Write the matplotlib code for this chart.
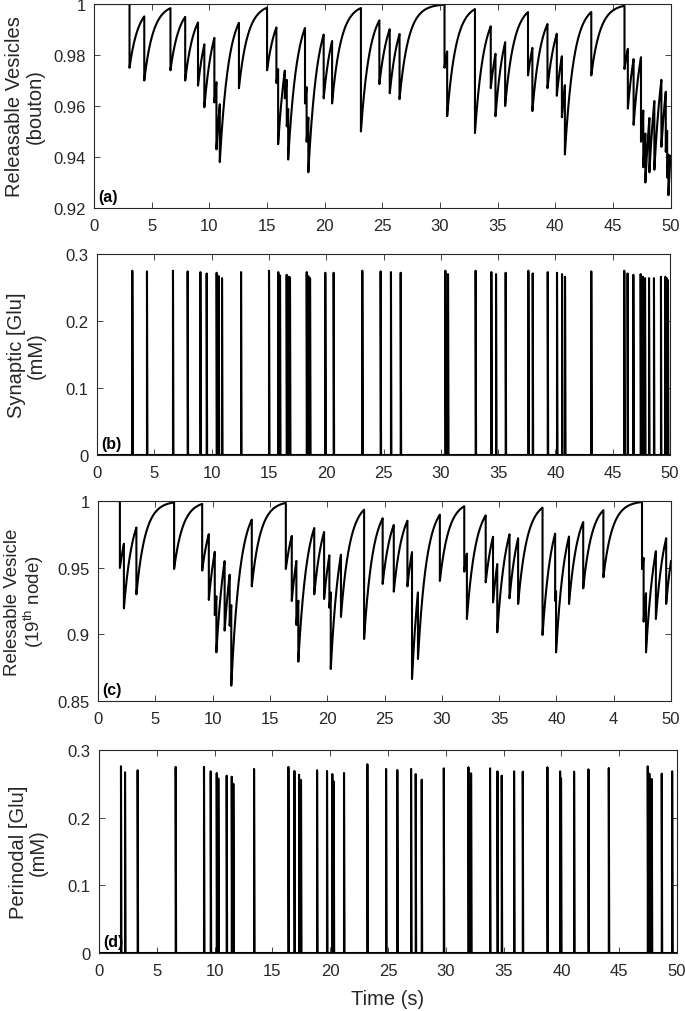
import numpy as np
import matplotlib
matplotlib.use("Agg")
import matplotlib.pyplot as plt

plt.rcParams["font.family"] = ["Liberation Sans", "DejaVu Sans"]
plt.rcParams["mathtext.fontset"] = "custom"
plt.rcParams["mathtext.rm"] = "Liberation Sans"
plt.rcParams["mathtext.it"] = "Liberation Sans:italic"

FIG_W, FIG_H = 685, 1012
TAU_RECOVERY = 0.78
T_END = 50.0
PULSE_WIDTH = 0.04
AX_COLOR = "#262626"

# bouton: spike times (s), synaptic [Glu] peaks (mM), vesicle fraction just after each spike
bouton_spike_t = [3.08, 4.36, 6.63, 7.91, 9.02, 9.57, 10.44, 10.62, 10.91, 12.57,
                  15.01, 15.82, 15.97, 16.55, 16.72, 16.84, 18.30, 18.44, 18.59, 19.92,
                  20.65, 23.15, 24.75, 25.65, 26.50, 30.40, 30.63, 33.04, 34.41, 34.82,
                  35.66, 37.64, 38.02, 39.33, 40.14, 40.58, 40.84, 43.13, 46.01, 46.30,
                  46.80, 47.44, 47.64, 47.82, 48.17, 48.60, 49.21, 49.59, 49.71, 49.82]
bouton_glu_peak = [0.275, 0.274, 0.275, 0.274, 0.273, 0.271, 0.272, 0.267, 0.264, 0.273,
                   0.275, 0.273, 0.268, 0.269, 0.266, 0.265, 0.273, 0.267, 0.264, 0.272,
                   0.272, 0.275, 0.274, 0.273, 0.272, 0.275, 0.270, 0.275, 0.273, 0.270,
                   0.272, 0.275, 0.271, 0.273, 0.272, 0.270, 0.266, 0.274, 0.275, 0.271,
                   0.269, 0.270, 0.266, 0.264, 0.264, 0.264, 0.266, 0.266, 0.264, 0.261]
bouton_trough = [0.975, 0.970, 0.974, 0.970, 0.968, 0.9595, 0.9614, 0.943, 0.938, 0.967,
                 0.974, 0.969, 0.945, 0.963, 0.952, 0.939, 0.961, 0.946, 0.934, 0.963,
                 0.961, 0.950, 0.9686, 0.965, 0.9627, 0.975, 0.956, 0.9494, 0.967, 0.956,
                 0.960, 0.972, 0.958, 0.967, 0.964, 0.9556, 0.941, 0.972, 0.9745, 0.959,
                 0.9526, 0.946, 0.936, 0.930, 0.934, 0.935, 0.944, 0.942, 0.932, 0.925]

# 19th node: spike times (s), perinodal [Glu] peaks (mM), vesicle fraction just after each spike
node_spike_t = [1.91, 2.26, 3.35, 6.64, 9.09, 9.67, 10.19, 10.33, 11.05, 11.49,
                11.63, 13.42, 16.39, 16.91, 17.31, 17.48, 18.87, 19.73, 20.19, 20.31,
                21.20, 23.22, 24.84, 25.81, 27.00, 27.40, 27.92, 29.83, 31.96, 32.19,
                33.83, 34.47, 34.84, 35.91, 36.66, 38.79, 39.89, 39.97, 41.10, 42.34,
                44.10, 47.47, 47.61, 47.82, 48.68, 49.58]
node_glu_peak = [0.276, 0.267, 0.270, 0.275, 0.275, 0.2685, 0.266, 0.258, 0.262, 0.2606,
                 0.250, 0.272, 0.275, 0.269, 0.2635, 0.2557, 0.270, 0.269, 0.2645, 0.2537,
                 0.266, 0.279, 0.272, 0.2704, 0.272, 0.2645, 0.2562, 0.2729, 0.2744, 0.2655,
                 0.2729, 0.2685, 0.2621, 0.2685, 0.268, 0.2744, 0.2685, 0.258, 0.268, 0.2714,
                 0.2734, 0.2759, 0.265, 0.2571, 0.265, 0.2685]
node_trough = [0.9498, 0.9195, 0.930, 0.949, 0.9478, 0.9258, 0.9145, 0.8865, 0.9028, 0.9065,
               0.8615, 0.936, 0.949, 0.925, 0.907, 0.8795, 0.930, 0.9265, 0.920, 0.874,
               0.913, 0.8965, 0.9378, 0.932, 0.936, 0.8665, 0.8815, 0.940, 0.947, 0.9115,
               0.939, 0.924, 0.9015, 0.927, 0.9228, 0.8995, 0.925, 0.8865, 0.9228, 0.9345,
               0.9428, 0.949, 0.9095, 0.8865, 0.9115, 0.9228]

x_ticks = [0, 5, 10, 15, 20, 25, 30, 35, 40, 45, 50]
x_tick_labels = ["0", "5", "10", "15", "20", "25", "30", "35", "40", "45", "50"]
x_tick_labels_c = ["0", "5", "10", "15", "20", "25", "30", "35", "40", "4", "50"]


def recovery_trace(spike_t, trough):
    t = [0.0, spike_t[0]]
    v = [1.0, 1.0]
    for k, t0 in enumerate(spike_t):
        t1 = spike_t[k + 1] if k + 1 < len(spike_t) else T_END
        seg = np.linspace(t0, t1, max(int((t1 - t0) * 300), 3))
        t.extend(seg)
        v.extend(1 - (1 - trough[k]) * np.exp(-(seg - t0) / TAU_RECOVERY))
    return t, v


def glu_trace(spike_t, peak):
    t = [0.0]
    g = [0.0]
    for t0, h in zip(spike_t, peak):
        t += [t0, t0, t0 + PULSE_WIDTH]
        g += [0.0, h, 0.0]
    t.append(T_END)
    g.append(0.0)
    return t, g


def make_axes(fig, left, right, top, bottom):
    # pixel box -> figure fraction
    return fig.add_axes([left / FIG_W, 1 - bottom / FIG_H,
                         (right - left) / FIG_W, (bottom - top) / FIG_H])


def style_axes(ax, yticks, ylabels, xlabels, ylabel, label_x, tag, label_size=14.5):
    ax.set_xlim(0, 50)
    ax.set_xticks(x_ticks)
    ax.set_xticklabels(xlabels)
    ax.set_yticks(yticks)
    ax.set_yticklabels(ylabels)
    ax.tick_params(direction="in", top=True, right=True, length=4, width=0.6,
                   labelsize=12, colors=AX_COLOR)
    ax.tick_params(axis="x", pad=7)
    ax.tick_params(axis="y", pad=6)
    for s in ax.spines.values():
        s.set_color(AX_COLOR)
        s.set_linewidth(0.8)
    ax.set_ylabel(ylabel, fontsize=label_size, color=AX_COLOR, linespacing=1.1)
    ax.yaxis.set_label_coords(label_x, 0.5)
    ax.text(0.007, 0.02, tag, transform=ax.transAxes, fontsize=11.5,
            fontweight="bold", ha="left", va="bottom", color="black")


fig = plt.figure(figsize=(FIG_W / 100, FIG_H / 100), dpi=100)

ax_a = make_axes(fig, 94, 670.5, 5, 209)
t, v = recovery_trace(bouton_spike_t, bouton_trough)
ax_a.plot(t, v, color="black", lw=1.5)
ax_a.set_ylim(0.92, 1.0)
style_axes(ax_a, [0.92, 0.94, 0.96, 0.98, 1.0], ["0.92", "0.94", "0.96", "0.98", "1"],
           x_tick_labels, "Releasable Vesicles\n(bouton)", -0.085, "(a)")

ax_b = make_axes(fig, 97, 670, 255, 456)
t, g = glu_trace(bouton_spike_t, bouton_glu_peak)
ax_b.plot(t, g, color="black", lw=1.5)
ax_b.set_ylim(0, 0.3)
style_axes(ax_b, [0, 0.1, 0.2, 0.3], ["0", "0.1", "0.2", "0.3"],
           x_tick_labels, "Synaptic [Glu]\n(mM)", -0.089, "(b)")

ax_c = make_axes(fig, 98, 671, 502, 702)
t, v = recovery_trace(node_spike_t, node_trough)
ax_c.plot(t, v, color="black", lw=1.5)
ax_c.set_ylim(0.85, 1.0)
style_axes(ax_c, [0.85, 0.9, 0.95, 1.0], ["0.85", "0.9", "0.95", "1"],
           x_tick_labels_c, "Relesable Vesicle\n(19$^{\\mathrm{th}}$ node)", -0.090, "(c)",
           label_size=13.5)

ax_d = make_axes(fig, 98.9, 677, 751, 954)
t, g = glu_trace(node_spike_t, node_glu_peak)
ax_d.plot(t, g, color="black", lw=1.5)
ax_d.set_ylim(0, 0.3)
style_axes(ax_d, [0, 0.1, 0.2, 0.3], ["0", "0.1", "0.2", "0.3"],
           x_tick_labels, "Perinodal [Glu]\n(mM)", -0.088, "(d)")
ax_d.set_xlabel("Time (s)", fontsize=14.5, color=AX_COLOR, labelpad=8)

fig.savefig("out.png", dpi=100)
